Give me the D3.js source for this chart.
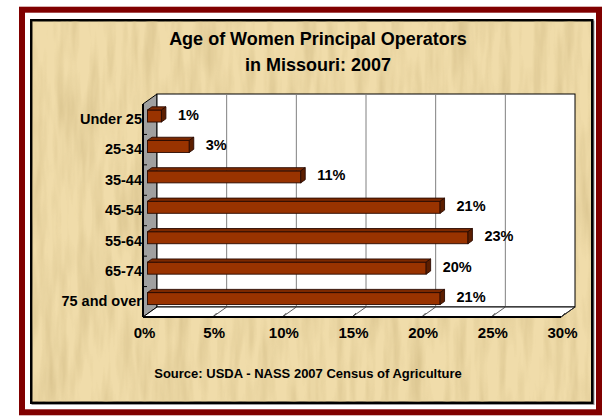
<!DOCTYPE html>
<html>
<head>
<meta charset="utf-8">
<script src="https://cdn.jsdelivr.net/npm/d3@7"></script>
<style>
  body { margin: 0; background: #fff; }
  svg { display: block; }
  text { font-family: "Liberation Sans", Arial, sans-serif; font-weight: bold; fill: #000; }
</style>
</head>
<body>
<div id="chart"></div>
<script>
// data
var categories = ["Under 25", "25-34", "35-44", "45-54", "55-64", "65-74", "75 and over"];
var shares = [1, 3, 11, 21, 23, 20, 21];
var xTicks = [0, 5, 10, 15, 20, 25, 30];
var titleLines = ["Age of Women Principal Operators", "in Missouri: 2007"];
var sourceText = "Source: USDA - NASS 2007 Census of Agriculture";

var svgWidth = 604;
var svgHeight = 416;

// back wall of the 3d plot, and the depth vector going back -> front
var back = { x0: 157, x1: 575, y0: 94, y1: 307 };
var depth = { dx: -14, dy: 10 };
var tFront = 0.68, tBack = 0.36;   // where the bars sit in the depth

var svg = d3.select("#chart")
  .append("svg")
  .attr("width", svgWidth)
  .attr("height", svgHeight);

var defs = svg.append("defs");
var paper = defs.append("filter")
  .attr("id", "paper")
  .attr("x", 0).attr("y", 0).attr("width", "100%").attr("height", "100%");
paper.append("feTurbulence")
  .attr("type", "fractalNoise")
  .attr("baseFrequency", "0.09 0.012")
  .attr("numOctaves", 3)
  .attr("seed", 7);
paper.append("feColorMatrix")
  .attr("type", "matrix")
  .attr("values", "0 0 0 0 0.62  0 0 0 0 0.48  0 0 0 0 0.22  0 0 0 1.8 -0.66");

// frames
svg.append("rect")
  .attr("x", 22).attr("y", 9.7).attr("width", 577).attr("height", 402.6)
  .attr("fill", "none").attr("stroke", "#800000").attr("stroke-width", 6);

svg.append("rect")
  .attr("x", 32.5).attr("y", 21.5).attr("width", 561).attr("height", 382.5)
  .attr("fill", "none").attr("stroke", "#9a9a9a").attr("stroke-width", 2);

svg.append("rect")
  .attr("x", 31.25).attr("y", 20.25).attr("width", 561).attr("height", 382.5)
  .attr("fill", "#f0dcaa").attr("stroke", "#000").attr("stroke-width", 2.5);

svg.append("rect")
  .attr("x", 32.5).attr("y", 21.5).attr("width", 558.5).attr("height", 380)
  .attr("fill", "#fff")
  .attr("filter", "url(#paper)")
  .attr("opacity", 0.6);

// title
svg.append("g").selectAll("text")
  .data(titleLines)
  .enter()
  .append("text")
  .attr("x", 318)
  .attr("y", function (d, i) { return 45 + i * 26; })
  .attr("text-anchor", "middle")
  .style("font-size", "18px")
  .text(function (d) { return d; });

// scales
var x = d3.scaleLinear().domain([0, 30]).range([back.x0, back.x1]);
var y = d3.scaleBand().domain(categories).range([back.y0, back.y1]);

function px(v, t) { return x(v) + depth.dx * t; }
function py(v, t) { return v + depth.dy * t; }

var plot = svg.append("g");

// side wall
plot.append("polygon")
  .attr("points", [
    [back.x0, back.y0], [back.x0, back.y1],
    [back.x0 + depth.dx, back.y1 + depth.dy], [back.x0 + depth.dx, back.y0 + depth.dy]
  ].join(" "))
  .attr("fill", "#a0a0a0")
  .attr("stroke", "#000")
  .attr("stroke-width", 1);

plot.append("line")
  .attr("x1", back.x0 + depth.dx).attr("y1", back.y0 + depth.dy)
  .attr("x2", back.x0 + depth.dx).attr("y2", back.y1 + depth.dy)
  .attr("stroke", "#000").attr("stroke-width", 2);

// back wall
plot.append("rect")
  .attr("x", back.x0).attr("y", back.y0)
  .attr("width", back.x1 - back.x0).attr("height", back.y1 - back.y0)
  .attr("fill", "#fff")
  .attr("stroke", "#000")
  .attr("stroke-width", 1);

plot.append("g").selectAll("line")
  .data(xTicks.slice(1, -1))
  .enter()
  .append("line")
  .attr("x1", function (d) { return x(d); })
  .attr("x2", function (d) { return x(d); })
  .attr("y1", back.y0)
  .attr("y2", back.y1)
  .attr("stroke", "#808080")
  .attr("stroke-width", 1);

// floor
plot.append("polygon")
  .attr("points", [
    [back.x0, back.y1], [back.x1, back.y1],
    [back.x1 + depth.dx, back.y1 + depth.dy], [back.x0 + depth.dx, back.y1 + depth.dy]
  ].join(" "))
  .attr("fill", "#fff")
  .attr("stroke", "#000")
  .attr("stroke-width", 1);

plot.append("g").selectAll("path")
  .data(xTicks.slice(1))
  .enter()
  .append("path")
  .attr("d", function (d) {
    var fx = px(d, 1), fy = py(back.y1, 1);
    return "M" + x(d) + "," + back.y1 + "L" + fx + "," + fy + "M" + fx + "," + fy + "l4,-4";
  })
  .attr("fill", "none")
  .attr("stroke", "#333")
  .attr("stroke-width", 0.8);

plot.append("line")
  .attr("x1", back.x0 + depth.dx).attr("y1", back.y1 + depth.dy)
  .attr("x2", back.x1 + depth.dx).attr("y2", back.y1 + depth.dy)
  .attr("stroke", "#000").attr("stroke-width", 2);

// category ticks on the side wall
plot.append("g").selectAll("line")
  .data(categories.slice(1))
  .enter()
  .append("line")
  .attr("x1", back.x0 + depth.dx)
  .attr("x2", back.x0 + depth.dx + 4)
  .attr("y1", function (d) { return py(y(d), 1); })
  .attr("y2", function (d) { return py(y(d), 1); })
  .attr("stroke", "#000")
  .attr("stroke-width", 1);

// bars
var bh = 12;
var bdx = depth.dx * (tBack - tFront);
var bdy = depth.dy * (tBack - tFront);

var bars = plot.append("g").selectAll("g")
  .data(shares)
  .enter()
  .append("g");

function barGeom(d, i) {
  var yc = y(categories[i]) + y.bandwidth() / 2;
  var cy = py(yc, tFront);
  return { x0: px(0, tFront), x1: px(d, tFront), top: cy - bh / 2, bot: cy + bh / 2, cy: cy };
}

bars.append("rect")
  .attr("x", function (d, i) { return barGeom(d, i).x0; })
  .attr("y", function (d, i) { return barGeom(d, i).top; })
  .attr("width", function (d, i) { var g = barGeom(d, i); return g.x1 - g.x0; })
  .attr("height", bh)
  .attr("fill", "#993300")
  .attr("stroke", "#2a0a00")
  .attr("stroke-width", 0.9);

bars.append("polygon")
  .attr("points", function (d, i) {
    var g = barGeom(d, i);
    return [[g.x0, g.top], [g.x1, g.top], [g.x1 + bdx, g.top + bdy], [g.x0 + bdx, g.top + bdy]].join(" ");
  })
  .attr("fill", "#7d2900")
  .attr("stroke", "#2a0a00")
  .attr("stroke-width", 0.9);

bars.append("polygon")
  .attr("points", function (d, i) {
    var g = barGeom(d, i);
    return [[g.x1, g.top], [g.x1 + bdx, g.top + bdy], [g.x1 + bdx, g.bot + bdy], [g.x1, g.bot]].join(" ");
  })
  .attr("fill", "#5c1e00")
  .attr("stroke", "#2a0a00")
  .attr("stroke-width", 0.9);

bars.append("text")
  .attr("x", function (d, i) { return barGeom(d, i).x1 + bdx + 12; })
  .attr("y", function (d, i) { return barGeom(d, i).cy - 1.5; })
  .attr("dy", "0.35em")
  .style("font-size", "14.5px")
  .text(function (d) { return d + "%"; });

// axes, on the front plane
var xFront = x.copy().range([px(0, 1) + 1, px(30, 1) + 1]);
var xAxis = svg.append("g")
  .attr("transform", "translate(0," + (back.y1 + depth.dy) + ")")
  .call(d3.axisBottom(xFront).tickValues(xTicks).tickSize(0).tickPadding(10)
    .tickFormat(function (d) { return d + "%"; }));
xAxis.select(".domain").remove();
xAxis.selectAll("text")
  .attr("fill", "#000")
  .style("font-family", "\"Liberation Sans\", Arial, sans-serif")
  .style("font-weight", "bold")
  .style("font-size", "15px");

var yFront = y.copy().range([back.y0 + depth.dy, back.y1 + depth.dy]);
var yAxis = svg.append("g")
  .attr("transform", "translate(" + (back.x0 + depth.dx - 1) + ",0)")
  .call(d3.axisLeft(yFront).tickSize(0).tickPadding(0));
yAxis.select(".domain").remove();
yAxis.selectAll("text")
  .attr("fill", "#000")
  .style("font-family", "\"Liberation Sans\", Arial, sans-serif")
  .style("font-weight", "bold")
  .style("font-size", "14.5px");

// source
svg.append("text")
  .attr("x", 308)
  .attr("y", 378)
  .attr("text-anchor", "middle")
  .style("font-size", "13px")
  .text(sourceText);
</script>
</body>
</html>
